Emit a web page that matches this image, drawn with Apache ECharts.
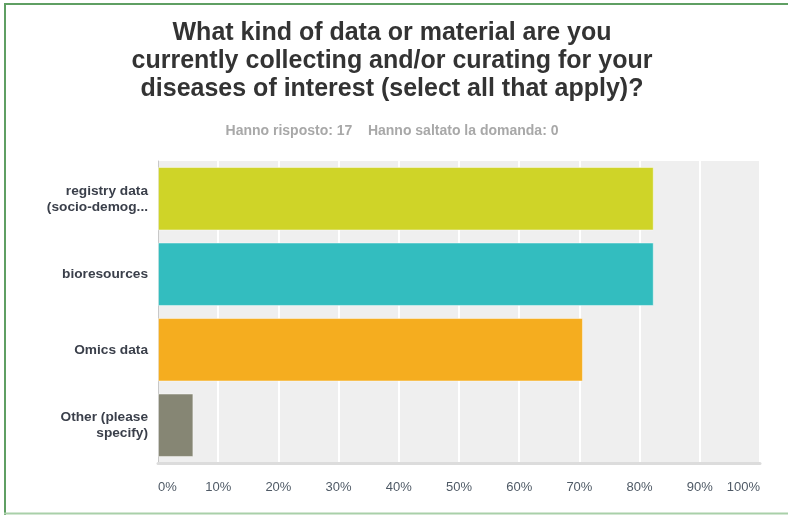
<!DOCTYPE html>
<html><head><meta charset="utf-8">
<script src="https://cdn.jsdelivr.net/npm/echarts@6/dist/echarts.min.js"></script>
<style>html,body{margin:0;padding:0;background:#fff}#c{width:788px;height:515px}</style>
</head><body><div id="c"></div>
<script>
const categories = ["registry data\n(socio-demog...", "bioresources", "Omics data", "Other (please\nspecify)"];
const values = [82.35, 82.35, 70.59, 5.88];
const barColors = ["#cfd428", "#33bdbf", "#f5ad1f", "#868674"];
const titleText = "What kind of data or material are you\ncurrently collecting and/or curating for your\ndiseases of interest (select all that apply)?";
const subtitleText = "Hanno risposto: 17    Hanno saltato la domanda: 0";

const chart = echarts.init(document.getElementById('c'), null, {renderer:'canvas'});
const font = "'Liberation Sans',Arial,sans-serif";
chart.setOption({
  animation:false,
  backgroundColor:'#fff',
  title:{
    text:titleText, subtext:subtitleText, left:387, textAlign:'center', top:14, itemGap:21,
    textStyle:{fontFamily:font, fontWeight:'bold', fontSize:25, lineHeight:28, color:'#333'},
    subtextStyle:{fontFamily:font, fontWeight:'bold', fontSize:14, color:'#a8a8a8'}
  },
  graphic:[
    {type:'line', shape:{x1:4, y1:4, x2:788, y2:4}, style:{stroke:'#5f9f63', lineWidth:2}, z:100},
    {type:'line', shape:{x1:5, y1:3, x2:5, y2:515}, style:{stroke:'#5f9f63', lineWidth:2}, z:100},
    {type:'line', shape:{x1:4, y1:513.5, x2:788, y2:513.5}, style:{stroke:'#a9d0a9', lineWidth:2}, z:100}
  ],
  grid:{left:158, right:28, top:161, bottom:52, show:true, backgroundColor:'#efefef', borderWidth:0},
  xAxis:{type:'value', min:0, max:100, interval:10,
    axisLine:{show:true, lineStyle:{color:'#dcdcdc', width:3}},
    axisTick:{show:false},
    splitLine:{show:true, lineStyle:{color:'#ffffff', width:2}},
    axisLabel:{formatter:'{value}%', color:'#4f5a66', fontFamily:font, fontSize:13, margin:18, alignMinLabel:'left', alignMaxLabel:'right'}
  },
  yAxis:{type:'category', data:categories, inverse:true,
    axisLine:{show:true, lineStyle:{color:'#c8c8c8', width:1}},
    axisTick:{show:false},
    axisLabel:{color:'#3a3f4a', fontFamily:font, fontWeight:'bold', fontSize:13.7, lineHeight:16, margin:10}
  },
  series:[{type:'bar', data:values.map((v,i)=>({value:v, itemStyle:{color:barColors[i]}})),
    barCategoryGap:'16%',
    itemStyle:{borderColor:'rgba(255,255,255,0.45)', borderWidth:1}
  }]
});
</script></body></html>
